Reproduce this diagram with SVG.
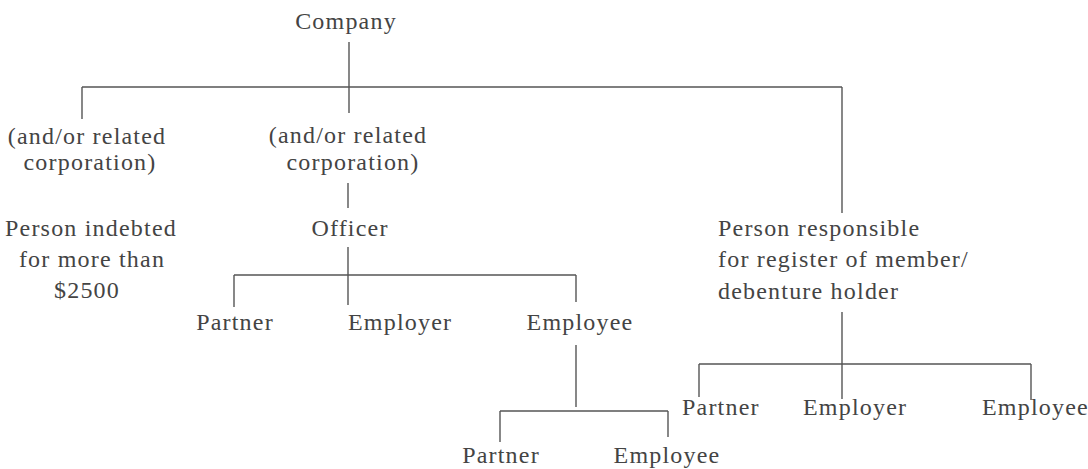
<svg xmlns="http://www.w3.org/2000/svg" width="1088" height="469" viewBox="0 0 1088 469">
<style>
text{font-family:"Liberation Serif","Times New Roman",serif;font-size:24px;fill:#444;letter-spacing:1.2px}
.m{text-anchor:middle}
.c line{stroke:#555;stroke-width:1.4;fill:none}
</style>
<rect width="1088" height="469" fill="#fff"/>
<g class="c" id="connectors">
<line x1="349" y1="42" x2="349" y2="113"/>
<line x1="82" y1="87" x2="842" y2="87"/>
<line x1="82" y1="87" x2="82" y2="119"/>
<line x1="842" y1="87" x2="842" y2="213"/>
<line x1="348" y1="183" x2="348" y2="208"/>
<line x1="348" y1="247" x2="348" y2="305"/>
<line x1="234" y1="275" x2="576" y2="275"/>
<line x1="234" y1="275" x2="234" y2="307"/>
<line x1="576" y1="275" x2="576" y2="302"/>
<line x1="576" y1="345" x2="576" y2="407"/>
<line x1="500" y1="411" x2="668" y2="411"/>
<line x1="500" y1="411" x2="500" y2="442"/>
<line x1="668" y1="411" x2="668" y2="437"/>
<line x1="842" y1="312" x2="842" y2="399"/>
<line x1="699" y1="364" x2="1031" y2="364"/>
<line x1="699" y1="364" x2="699" y2="397"/>
<line x1="1031" y1="364" x2="1031" y2="400"/>
</g>
<g id="company"><text class="m" x="346" y="29">Company</text></g>
<g id="related-left"><text class="m" x="87" y="144">(and/or related</text><text class="m" x="90" y="170">corporation)</text></g>
<g id="indebted"><text class="m" x="91" y="236">Person indebted</text><text class="m" x="92" y="267">for more than</text><text class="m" x="87" y="298">$2500</text></g>
<g id="related-mid"><text class="m" x="348" y="143">(and/or related</text><text class="m" x="353" y="170">corporation)</text></g>
<g id="officer"><text class="m" x="350" y="236">Officer</text></g>
<g id="o-partner"><text class="m" x="235" y="330">Partner</text></g>
<g id="o-employer"><text x="348" y="330">Employer</text></g>
<g id="o-employee"><text class="m" x="580" y="330">Employee</text></g>
<g id="e-partner"><text class="m" x="501" y="463">Partner</text></g>
<g id="e-employee"><text class="m" x="667" y="463">Employee</text></g>
<g id="responsible"><text x="718" y="236">Person responsible</text><text x="718" y="267">for register of member/</text><text x="718" y="299">debenture holder</text></g>
<g id="r-partner"><text x="682" y="415">Partner</text></g>
<g id="r-employer"><text x="803" y="415">Employer</text></g>
<g id="r-employee"><text x="982" y="415">Employee</text></g>
</svg>
